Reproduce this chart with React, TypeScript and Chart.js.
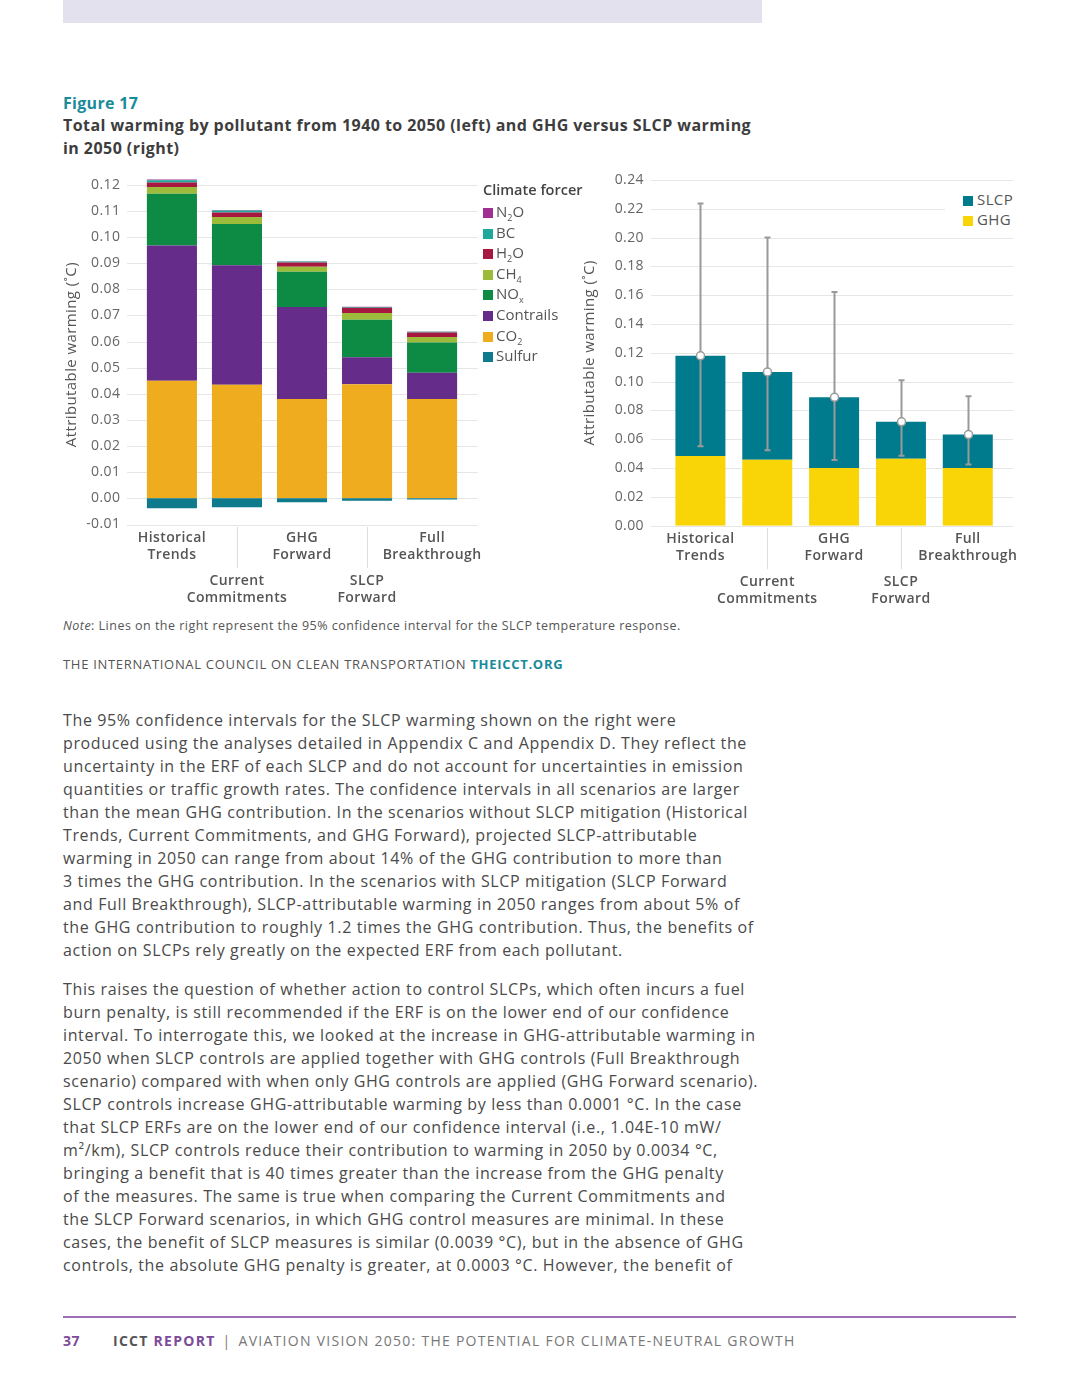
import React, { useEffect, useRef } from "react";
import { Chart, registerables } from "chart.js";
Chart.register(...registerables);

const FONT = "'Open Sans', sans-serif";

// ---------- data ----------
const categories = ["Historical Trends", "Current Commitments", "GHG Forward", "SLCP Forward", "Full Breakthrough"];

// left chart: stacked by pollutant (bottom to top)
const forcerNames = ["Sulfur", "CO2", "Contrails", "NOx", "CH4", "H2O", "BC", "N2O"];
const forcerColors = ["#0f7a8c", "#f0ac1f", "#652c8a", "#0d8a43", "#9dbb3b", "#a6183f", "#1ea79b", "#a12f91"];
const sulfur = [-0.0038, -0.0034, -0.0015, -0.0009, -0.0004];
const co2 = [0.045, 0.0435, 0.038, 0.0437, 0.038];
const contrails = [0.0517, 0.0457, 0.0352, 0.0103, 0.0101];
const nox = [0.0198, 0.0158, 0.0135, 0.0143, 0.0115];
const ch4 = [0.0026, 0.0026, 0.0019, 0.0026, 0.0021];
const h2o = [0.0017, 0.0018, 0.0016, 0.002, 0.0018];
const bc = [0.0009, 0.0007, 0.0004, 0.0003, 0.0002];
const n2o = [0.0003, 0.0002, 0.0001, 0.0001, 0.0001];
const forcerValues = [sulfur, co2, contrails, nox, ch4, h2o, bc, n2o];

// right chart: GHG vs SLCP warming in 2050
const ghg = [0.0484, 0.0458, 0.04, 0.0465, 0.04];
const slcp = [0.0695, 0.0609, 0.0491, 0.0256, 0.0233];
const ciLow = [0.0551, 0.0523, 0.0456, 0.0486, 0.0425];
const ciHigh = [0.2237, 0.2, 0.1623, 0.101, 0.0898];
const ghgColor = "#f9d406";
const slcpColor = "#007b8d";

const leftTicks = { min: -0.01, max: 0.12, step: 0.01 };
const rightTicks = { min: 0, max: 0.24, step: 0.02 };

const para1 = [
  "The 95% confidence intervals for the SLCP warming shown on the right were",
  "produced using the analyses detailed in Appendix C and Appendix D. They reflect the",
  "uncertainty in the ERF of each SLCP and do not account for uncertainties in emission",
  "quantities or traffic growth rates. The confidence intervals in all scenarios are larger",
  "than the mean GHG contribution. In the scenarios without SLCP mitigation (Historical",
  "Trends, Current Commitments, and GHG Forward), projected SLCP-attributable",
  "warming in 2050 can range from about 14% of the GHG contribution to more than",
  "3 times the GHG contribution. In the scenarios with SLCP mitigation (SLCP Forward",
  "and Full Breakthrough), SLCP-attributable warming in 2050 ranges from about 5% of",
  "the GHG contribution to roughly 1.2 times the GHG contribution. Thus, the benefits of",
  "action on SLCPs rely greatly on the expected ERF from each pollutant.",
];
const para2 = [
  "This raises the question of whether action to control SLCPs, which often incurs a fuel",
  "burn penalty, is still recommended if the ERF is on the lower end of our confidence",
  "interval. To interrogate this, we looked at the increase in GHG-attributable warming in",
  "2050 when SLCP controls are applied together with GHG controls (Full Breakthrough",
  "scenario) compared with when only GHG controls are applied (GHG Forward scenario).",
  "SLCP controls increase GHG-attributable warming by less than 0.0001 °C. In the case",
  "that SLCP ERFs are on the lower end of our confidence interval (i.e., 1.04E-10 mW/",
  "m²/km), SLCP controls reduce their contribution to warming in 2050 by 0.0034 °C,",
  "bringing a benefit that is 40 times greater than the increase from the GHG penalty",
  "of the measures. The same is true when comparing the Current Commitments and",
  "the SLCP Forward scenarios, in which GHG control measures are minimal. In these",
  "cases, the benefit of SLCP measures is similar (0.0039 °C), but in the absence of GHG",
  "controls, the absolute GHG penalty is greater, at 0.0003 °C. However, the benefit of",
];

const GRID = "#e6e6e6";
const TICK = "#666666";
const LABEL = "#555555";

const spacingPlugin = {
  id: "spacing",
  beforeDraw(chart: any) {
    (chart.ctx as any).letterSpacing = "0.4px";
  },
};

function makeGridPlugin(extL: number, extR: number) {
  return {
    id: "extGrid",
    beforeDatasetsDraw(chart: any) {
      const { ctx, chartArea, scales } = chart;
      const y = scales.y;
      ctx.save();
      ctx.strokeStyle = GRID;
      ctx.lineWidth = 1;
      y.ticks.forEach((t: any) => {
        const py = Math.round(y.getPixelForValue(t.value)) + 0.5;
        ctx.beginPath();
        ctx.moveTo(chartArea.left - extL, py);
        ctx.lineTo(chartArea.right + extR, py);
        ctx.stroke();
      });
      ctx.restore();
    },
  };
}

function makeLabelPlugin() {
  return {
    id: "xLabels",
    afterDraw(chart: any) {
      const { ctx, chartArea, scales } = chart;
      const x = scales.x;
      ctx.save();
      ctx.font = `600 14px ${FONT}`;
      ctx.fillStyle = LABEL;
      ctx.textAlign = "center";
      ctx.textBaseline = "middle";
      categories.forEach((c, i) => {
        const px = x.getPixelForValue(i);
        const words = c.split(" ");
        const base = chartArea.bottom + (i % 2 === 0 ? 13.5 : 56.5);
        ctx.fillText(words[0], px, base);
        ctx.fillText(words.slice(1).join(" "), px, base + 17);
        if (i % 2 === 1) {
          ctx.strokeStyle = "#dddddd";
          ctx.lineWidth = 1;
          ctx.beginPath();
          ctx.moveTo(Math.round(px) + 0.5, chartArea.bottom + 2.5);
          ctx.lineTo(Math.round(px) + 0.5, chartArea.bottom + 43.5);
          ctx.stroke();
        }
      });
      ctx.restore();
    },
  };
}

const errorPlugin = {
  id: "errBars",
  afterDatasetsDraw(chart: any) {
    const { ctx, scales } = chart;
    const x = scales.x;
    const y = scales.y;
    ctx.save();
    categories.forEach((_, i) => {
      const px = Math.round(x.getPixelForValue(i)) + 0.5;
      const lo = y.getPixelForValue(ciLow[i]);
      const hi = y.getPixelForValue(ciHigh[i]);
      const mid = y.getPixelForValue(ghg[i] + slcp[i]);
      ctx.strokeStyle = "#9a9a9a";
      ctx.lineWidth = 2;
      ctx.beginPath();
      ctx.moveTo(px, lo);
      ctx.lineTo(px, hi);
      ctx.moveTo(px - 3, lo);
      ctx.lineTo(px + 3, lo);
      ctx.moveTo(px - 3, hi);
      ctx.lineTo(px + 3, hi);
      ctx.stroke();
      ctx.beginPath();
      ctx.arc(px, mid, 4, 0, Math.PI * 2);
      ctx.fillStyle = "#ffffff";
      ctx.fill();
      ctx.lineWidth = 1.5;
      ctx.stroke();
    });
    ctx.restore();
  },
};

function yAxis(t: { min: number; max: number; step: number }, width: number, pad: number, titlePad: number) {
  return {
    stacked: true,
    min: t.min,
    max: t.max,
    afterFit: (s: any) => {
      s.width = width;
      s.paddingTop = 8;
      s.paddingBottom = 8;
    },
    grid: { display: false, drawTicks: false },
    border: { display: false },
    ticks: {
      stepSize: t.step,
      padding: pad,
      color: TICK,
      font: { family: FONT, size: 14 },
      callback: (v: any) => Number(v).toFixed(2),
    },
    title: {
      display: true,
      text: "Attributable warming (˚C)",
      color: LABEL,
      font: { family: FONT, size: 15 },
      padding: { top: titlePad, bottom: 0 },
    },
  };
}

function xAxis(h: number) {
  return {
    stacked: true,
    afterFit: (s: any) => {
      s.height = h;
    },
    grid: { display: false, drawTicks: false },
    border: { display: false },
    ticks: { display: false },
  };
}

function LeftChart() {
  const ref = useRef<HTMLCanvasElement>(null);
  useEffect(() => {
    const chart = new Chart(ref.current as HTMLCanvasElement, {
      type: "bar",
      data: {
        labels: categories,
        datasets: forcerNames.map((n, k) => ({
          label: n,
          data: forcerValues[k],
          backgroundColor: forcerColors[k],
          borderWidth: 0,
          barPercentage: 0.77,
          categoryPercentage: 1,
          clip: false as any,
        })),
      },
      options: {
        animation: false,
        responsive: false,
        devicePixelRatio: 1,
        layout: { padding: { top: 14.7, right: 135.4, left: 0, bottom: 0 } },
        plugins: { legend: { display: false }, tooltip: { enabled: false } },
        scales: { x: xAxis(85.5) as any, y: yAxis(leftTicks, 79.4, 19, 2.7) as any },
      },
      plugins: [spacingPlugin, makeGridPlugin(12.4, 13.4), makeLabelPlugin()],
    });
    return () => chart.destroy();
  }, []);
  return <canvas ref={ref} width={540} height={440} style={{ position: "absolute", left: 60, top: 170, width: 540, height: 440 }} />;
}

function RightChart() {
  const ref = useRef<HTMLCanvasElement>(null);
  useEffect(() => {
    const chart = new Chart(ref.current as HTMLCanvasElement, {
      type: "bar",
      data: {
        labels: categories,
        datasets: [
          { label: "GHG", data: ghg, backgroundColor: ghgColor, borderWidth: 0, barPercentage: 0.748, categoryPercentage: 1 },
          { label: "SLCP", data: slcp, backgroundColor: slcpColor, borderWidth: 0, barPercentage: 0.748, categoryPercentage: 1 },
        ],
      },
      options: {
        animation: false,
        responsive: false,
        devicePixelRatio: 1,
        layout: { padding: { top: 10, right: 28.8, left: 0, bottom: 0 } },
        plugins: { legend: { display: false }, tooltip: { enabled: false } },
        scales: { x: xAxis(84.3) as any, y: yAxis(rightTicks, 87, 23, 1) as any },
      },
      plugins: [spacingPlugin, makeGridPlugin(16, 11.8), makeLabelPlugin(), errorPlugin],
    });
    return () => chart.destroy();
  }, []);
  return <canvas ref={ref} width={450} height={440} style={{ position: "absolute", left: 580, top: 170, width: 450, height: 440 }} />;
}

function Chem({ name }: { name: string }) {
  const parts: React.ReactNode[] = [];
  for (let i = 0; i < name.length; i++) {
    const ch = name[i];
    const isSub = /\d/.test(ch) || (ch === "x" && name[i - 1] === "O");
    parts.push(
      isSub ? (
        <span key={i} style={{ fontSize: 9, verticalAlign: -4, lineHeight: 0 }}>
          {ch}
        </span>
      ) : (
        ch
      )
    );
  }
  return <>{parts}</>;
}

const sq = (c: string, s: number) => ({
  display: "inline-block",
  width: s,
  height: s,
  background: c,
  marginRight: 3,
  verticalAlign: "-1px",
});

export default function App() {
  const textBase: React.CSSProperties = { fontFamily: FONT, color: "#4a4a4a", position: "absolute", whiteSpace: "nowrap" };
  const body: React.CSSProperties = { ...textBase, left: 63, fontSize: 16, lineHeight: "23px", letterSpacing: "0.63px" };
  const legendOrder = forcerNames.map((_, k) => k).reverse();
  return (
    <div style={{ position: "absolute", left: 0, top: 0, width: 1080, height: 1398, background: "#fff", overflow: "hidden" }}>
      <div style={{ position: "absolute", left: 63, top: 0, width: 699, height: 23, background: "#e4e1ee" }} />
      <div style={{ ...textBase, left: 63, top: 91.5, lineHeight: "23px", fontSize: 16, letterSpacing: "0.3px", fontWeight: 700, color: "#1a8b9b" }}>Figure 17</div>
      <div style={{ ...textBase, left: 63, top: 113.5, lineHeight: "23px", fontSize: 16, letterSpacing: "0.44px", fontWeight: 700, color: "#3d3d3d" }}>
        <div>Total warming by pollutant from 1940 to 2050 (left) and GHG versus SLCP warming</div>
        <div>in 2050 (right)</div>
      </div>

      <LeftChart />
      <RightChart />

      <div style={{ ...textBase, left: 483, top: 180, fontSize: 14.5, lineHeight: "20px", fontWeight: 600, color: "#444" }}>Climate forcer</div>
      <div style={{ ...textBase, left: 483, top: 201, fontSize: 15, lineHeight: "20.6px", color: "#555" }}>
        {legendOrder.map((k) => (
          <div key={k}>
            <span style={sq(forcerColors[k], 10)} />
            <Chem name={forcerNames[k]} />
          </div>
        ))}
      </div>

      <div style={{ ...textBase, left: 945, top: 188, width: 75, height: 42, background: "#fff" }} />
      <div style={{ ...textBase, left: 963, top: 188.5, fontSize: 15, letterSpacing: "0.4px", lineHeight: "20px", color: "#555" }}>
        {[
          ["SLCP", slcpColor],
          ["GHG", ghgColor],
        ].map(([n, c]) => (
          <div key={n}>
            <span style={{ ...sq(c, 10), marginRight: 4 }} />
            {n}
          </div>
        ))}
      </div>

      <div style={{ ...textBase, left: 63, top: 617, fontSize: 12.5, letterSpacing: "0.48px", lineHeight: "18px", color: "#555" }}>
        <i>Note</i>: Lines on the right represent the 95% confidence interval for the SLCP temperature response.
      </div>
      <div style={{ ...textBase, left: 63, top: 655, fontSize: 13, letterSpacing: "0.7px", lineHeight: "18px", color: "#555" }}>
        THE INTERNATIONAL COUNCIL ON CLEAN TRANSPORTATION <b style={{ color: "#1a8b9b" }}>THEICCT.ORG</b>
      </div>

      <div style={{ ...body, top: 708.5 }}>
        {para1.map((l, i) => (
          <div key={i}>{l}</div>
        ))}
      </div>
      <div style={{ ...body, top: 977.5 }}>
        {para2.map((l, i) => (
          <div key={i}>{l}</div>
        ))}
      </div>

      <div style={{ position: "absolute", left: 63, top: 1316, width: 953, height: 1.5, background: "#9b6db3" }} />
      <div style={{ ...textBase, left: 63, top: 1331, fontSize: 14, letterSpacing: "1.27px", lineHeight: "20px", color: "#777" }}>
        <b style={{ color: "#7d4a99", letterSpacing: "0.5px" }}>37</b>
        <span style={{ display: "inline-block", width: 33 }} />
        <b style={{ color: "#555" }}>ICCT </b>
        <b style={{ color: "#7d4a99" }}>REPORT</b>
        <span style={{ margin: "0 7px" }}>|</span>
        <span>AVIATION VISION 2050: THE POTENTIAL FOR CLIMATE-NEUTRAL GROWTH</span>
      </div>
    </div>
  );
}
